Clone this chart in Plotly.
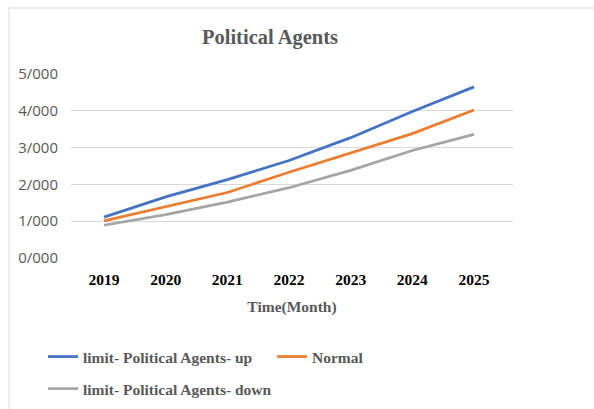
import plotly.graph_objects as go

years = ["2019", "2020", "2021", "2022", "2023", "2024", "2025"]
up_vals = [1.11, 1.66, 2.13, 2.65, 3.27, 3.98, 4.65]
normal_vals = [1.01, 1.40, 1.78, 2.33, 2.85, 3.38, 4.02]
down_vals = [0.89, 1.18, 1.52, 1.91, 2.38, 2.92, 3.36]
ytick_vals = [0, 1, 2, 3, 4, 5]
ytick_text = ["0/000", "1/000", "2/000", "3/000", "4/000", "5/000"]

W, H = 594, 409
L, R, T, B = 71, 81, 74, 151
pw, ph = W - L - R, H - T - B

def px_x(p):
    return (p - L) / pw

def px_y(p):
    return (H - B - p) / ph

serif = "Liberation Serif"
gray_txt = "#595959"

fig = go.Figure()
fig.add_trace(go.Scatter(x=years, y=up_vals, mode="lines", name="limit- Political Agents- up",
                         line=dict(color="#4472C4", width=2.75), legend="legend"))
fig.add_trace(go.Scatter(x=years, y=normal_vals, mode="lines", name="Normal",
                         line=dict(color="#ED7D31", width=2.75), legend="legend"))
fig.add_trace(go.Scatter(x=years, y=down_vals, mode="lines", name="limit- Political Agents- down",
                         line=dict(color="#A5A5A5", width=2.75), legend="legend2"))

legend_font = dict(family=serif, size=15.5, color=gray_txt, weight="bold")

fig.update_layout(
    width=W, height=H,
    margin=dict(l=L, r=R, t=T, b=B, autoexpand=False),
    paper_bgcolor="white", plot_bgcolor="white",
    title=dict(text="Political Agents", x=270 / W, xanchor="center",
               y=1 - 37 / H, yanchor="middle",
               font=dict(family=serif, size=20.5, color=gray_txt, weight="bold")),
    xaxis=dict(type="category", range=[-0.535, 6.632], showgrid=False, showline=False,
               zeroline=False, ticks="", ticklabelstandoff=10,
               tickfont=dict(family=serif, size=15.5, color="black", weight="bold"),
               title=dict(text="Time(Month)", standoff=14,
                          font=dict(family=serif, size=15.5, color=gray_txt, weight="bold"))),
    yaxis=dict(range=[0, 5], tickvals=ytick_vals, ticktext=ytick_text,
               showgrid=True, gridcolor="#D9D9D9", gridwidth=1, zeroline=False,
               showline=False, ticks="", ticklabelstandoff=12,
               tickfont=dict(family="Open Sans", size=15, color=gray_txt)),
    legend=dict(orientation="h", x=px_x(43), xanchor="left", y=px_y(357), yanchor="middle",
                entrywidth=184, entrywidthmode="pixels", font=legend_font,
                bgcolor="rgba(0,0,0,0)"),
    legend2=dict(orientation="h", x=px_x(43), xanchor="left", y=px_y(389), yanchor="middle",
                 font=legend_font, bgcolor="rgba(0,0,0,0)"),
    shapes=[dict(type="rect", xref="paper", yref="paper",
                 x0=px_x(9), x1=px_x(620), y0=px_y(8), y1=px_y(440),
                 line=dict(color="#D9D9D9", width=1), layer="below")],
)

fig.write_html("out.html")
